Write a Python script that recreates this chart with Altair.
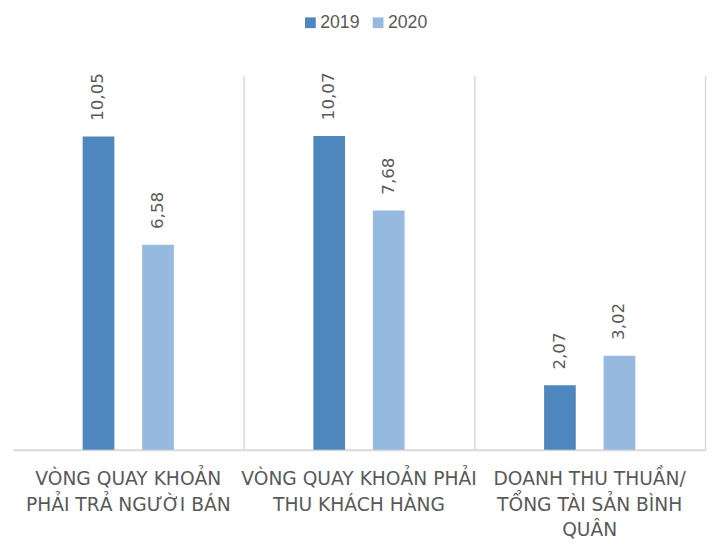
import altair as alt
import pandas as pd

categories = [
    "VÒNG QUAY KHOẢN|PHẢI TRẢ NGƯỜI BÁN",
    "VÒNG QUAY KHOẢN PHẢI|THU KHÁCH HÀNG",
    "DOANH THU THUẦN/|TỔNG TÀI SẢN BÌNH|QUÂN",
]
years = ["2019", "2020"]
values_2019 = [10.05, 10.07, 2.07]
values_2020 = [6.58, 7.68, 3.02]
colors = ["#4E87BD", "#96B9E0"]

rows = []
for c, a, b in zip(categories, values_2019, values_2020):
    rows.append({"cat": c, "year": "2019", "value": a})
    rows.append({"cat": c, "year": "2020", "value": b})
df = pd.DataFrame(rows)

# spacer slots either side of the two bars inside each group
slot_domain = ["_l"] + years + ["_r"]

base = alt.Chart().encode(
    x=alt.X(
        "year:N",
        scale=alt.Scale(domain=slot_domain, paddingInner=0.467, paddingOuter=0.172),
        axis=alt.Axis(title=None, labels=False, ticks=False, grid=False,
                      domainColor="#D9D9D9", domainWidth=2),
    ),
    y=alt.Y(
        "value:Q",
        scale=alt.Scale(domain=[0, 12], nice=False),
        axis=alt.Axis(orient="right", title=None, labels=False, ticks=False, grid=False,
                      domainColor="#D9D9D9", domainWidth=1.5),
    ),
)

bars = base.mark_bar().encode(
    color=alt.Color(
        "year:N",
        scale=alt.Scale(domain=years, range=colors),
        legend=alt.Legend(
            title=None,
            orient="none",
            legendX=294,
            legendY=-63,
            direction="horizontal",
            symbolType="square",
            symbolSize=120,
            symbolStrokeWidth=0,
            labelFont="Liberation Sans Narrow, Liberation Sans, sans-serif",
            labelFontSize=18,
            labelColor="#595959",
            labelOffset=1,
            columnPadding=9,
        ),
    ),
)

labels = base.mark_text(
    angle=270, align="left", baseline="middle", dx=16,
    font="DejaVu Sans", fontSize=17, color="#595959",
).encode(text="lbl:N")

chart = (
    alt.layer(bars, labels, data=df)
    .transform_calculate(lbl="replace(format(datum.value, '.2f'), '.', ',')")
    .properties(width=235, height=381)
    .facet(
        column=alt.Column(
            "cat:N",
            sort=categories,
            title=None,
            header=alt.Header(
                labelOrient="bottom",
                labelExpr="split(datum.label, '|')",
                labelFont="DejaVu Sans",
                labelFontSize=19,
                labelColor="#595959",
                labelLineHeight=26,
                labelPadding=40,
                labelAngle=0,
                labelLimit=400,
            ),
        ),
        spacing=0,
    )
    .resolve_axis(y="independent")
    .properties(padding={"left": 5, "top": 1, "right": 2, "bottom": 5})
    .configure_view(stroke=None)
)

chart.save("out.html", embed_options={"renderer": "svg", "actions": False})
